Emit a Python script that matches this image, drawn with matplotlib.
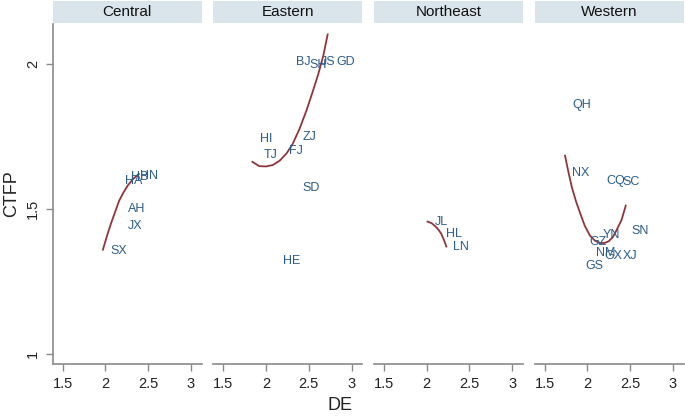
import matplotlib.pyplot as plt
from matplotlib.patches import Rectangle

plt.rcParams['font.family'] = ['Liberation Sans', 'DejaVu Sans']

regions = ['Central', 'Eastern', 'Northeast', 'Western']

# province labels, DE and CTFP, per region
central_prov = ['SX', 'HA', 'HB', 'HN', 'AH', 'JX']
central_de = [2.15, 2.33, 2.40, 2.51, 2.36, 2.35]
central_tfp = [1.354, 1.598, 1.612, 1.615, 1.50, 1.443]

eastern_prov = ['BJ', 'SH', 'JS', 'GD', 'ZJ', 'HI', 'TJ', 'FJ', 'SD', 'HE']
eastern_de = [2.43, 2.61, 2.72, 2.93, 2.51, 2.0, 2.05, 2.35, 2.53, 2.30]
eastern_tfp = [2.008, 1.996, 2.008, 2.008, 1.749, 1.741, 1.687, 1.699, 1.571, 1.320]

northeast_prov = ['JL', 'HL', 'LN']
northeast_de = [2.17, 2.32, 2.40]
northeast_tfp = [1.457, 1.415, 1.369]

western_prov = ['QH', 'NX', 'CQ', 'SC', 'SN', 'YN', 'GZ', 'NM', 'GX', 'XJ', 'GS']
western_de = [1.94, 1.92, 2.33, 2.51, 2.62, 2.28, 2.12, 2.22, 2.30, 2.50, 2.08]
western_tfp = [1.859, 1.623, 1.598, 1.592, 1.426, 1.411, 1.386, 1.349, 1.337, 1.337, 1.303]

# quadratic fit lines
central_fit_x = [1.97, 2.02, 2.07, 2.12, 2.16, 2.21, 2.26, 2.32, 2.39]
central_fit_y = [1.360, 1.410, 1.455, 1.496, 1.529, 1.557, 1.581, 1.603, 1.621]
eastern_fit_x = [1.84, 1.92, 2.0, 2.08, 2.16, 2.24, 2.31, 2.39, 2.47, 2.54, 2.61, 2.67, 2.72]
eastern_fit_y = [1.663, 1.648, 1.647, 1.652, 1.667, 1.692, 1.724, 1.776, 1.838, 1.900, 1.965, 2.030, 2.102]
northeast_fit_x = [2.01, 2.06, 2.10, 2.14, 2.17, 2.20, 2.23]
northeast_fit_y = [1.457, 1.451, 1.441, 1.428, 1.415, 1.395, 1.371]
western_fit_x = [1.74, 1.78, 1.82, 1.87, 1.92, 1.97, 2.03, 2.09, 2.15, 2.20, 2.25, 2.30, 2.34, 2.40, 2.45]
western_fit_y = [1.684, 1.627, 1.575, 1.525, 1.483, 1.443, 1.409, 1.391, 1.383, 1.383, 1.389, 1.404, 1.426, 1.462, 1.512]

panels = [
    (central_prov, central_de, central_tfp, central_fit_x, central_fit_y),
    (eastern_prov, eastern_de, eastern_tfp, eastern_fit_x, eastern_fit_y),
    (northeast_prov, northeast_de, northeast_tfp, northeast_fit_x, northeast_fit_y),
    (western_prov, western_de, western_tfp, western_fit_x, western_fit_y),
]

label_col = '#2b5c8a'
fit_col = '#90353b'
axis_col = '#8a8a8a'
head_col = '#d9e5eb'

fig = plt.figure(figsize=(6.85, 4.16), dpi=100)

W, H = 685.0, 416.0
left0, width, step = 52.7, 149.0, 160.6
top, bottom = 24.0, 364.0

for i, name in enumerate(regions):
    prov, de, tfp, fx, fy = panels[i]
    x0 = left0 + i * step
    ax = fig.add_axes([x0 / W, 1 - bottom / H, width / W, (bottom - top) / H])
    ax.plot(fx, fy, color=fit_col, lw=1.3)
    for p, xv, yv in zip(prov, de, tfp):
        ax.text(xv, yv, p, color=label_col, fontsize=9, ha='center', va='center')
    ax.set_xlim(1.383, 3.125)
    ax.set_ylim(0.966, 2.138)
    ax.set_xticks([1.5, 2, 2.5, 3])
    ax.set_xticklabels(['1.5', '2', '2.5', '3'])
    for s in ['top', 'right']:
        ax.spines[s].set_visible(False)
    ax.spines['bottom'].set_color(axis_col)
    ax.spines['bottom'].set_linewidth(1.2)
    ax.tick_params(axis='x', colors=axis_col, labelcolor='#222222', labelsize=10.5,
                   length=5, width=1, pad=4)
    if i == 0:
        ax.spines['left'].set_color(axis_col)
        ax.spines['left'].set_linewidth(1.2)
        ax.set_yticks([1, 1.5, 2])
        ax.set_yticklabels(['1', '1.5', '2'], rotation=90, va='center')
        ax.tick_params(axis='y', colors=axis_col, labelcolor='#222222', labelsize=10.5,
                       length=5, width=1, pad=4)
    else:
        ax.spines['left'].set_visible(False)
        ax.set_yticks([])
    # strip header
    fig.patches.append(Rectangle((x0 / W, 1 - 23.0 / H), width / W, 22.0 / H,
                                 transform=fig.transFigure, facecolor=head_col,
                                 edgecolor='none', zorder=0))
    fig.text((x0 + width / 2) / W, 1 - 12.0 / H, name, ha='center', va='center',
             fontsize=11, color='#111111')

fig.text(12 / W, 1 - 194 / H, 'CTFP', ha='center', va='center', rotation=90,
         fontsize=13, color='#222222')
fig.text(340 / W, 1 - 405 / H, 'DE', ha='center', va='center', fontsize=13, color='#222222')

fig.savefig('out.png', dpi=100)
